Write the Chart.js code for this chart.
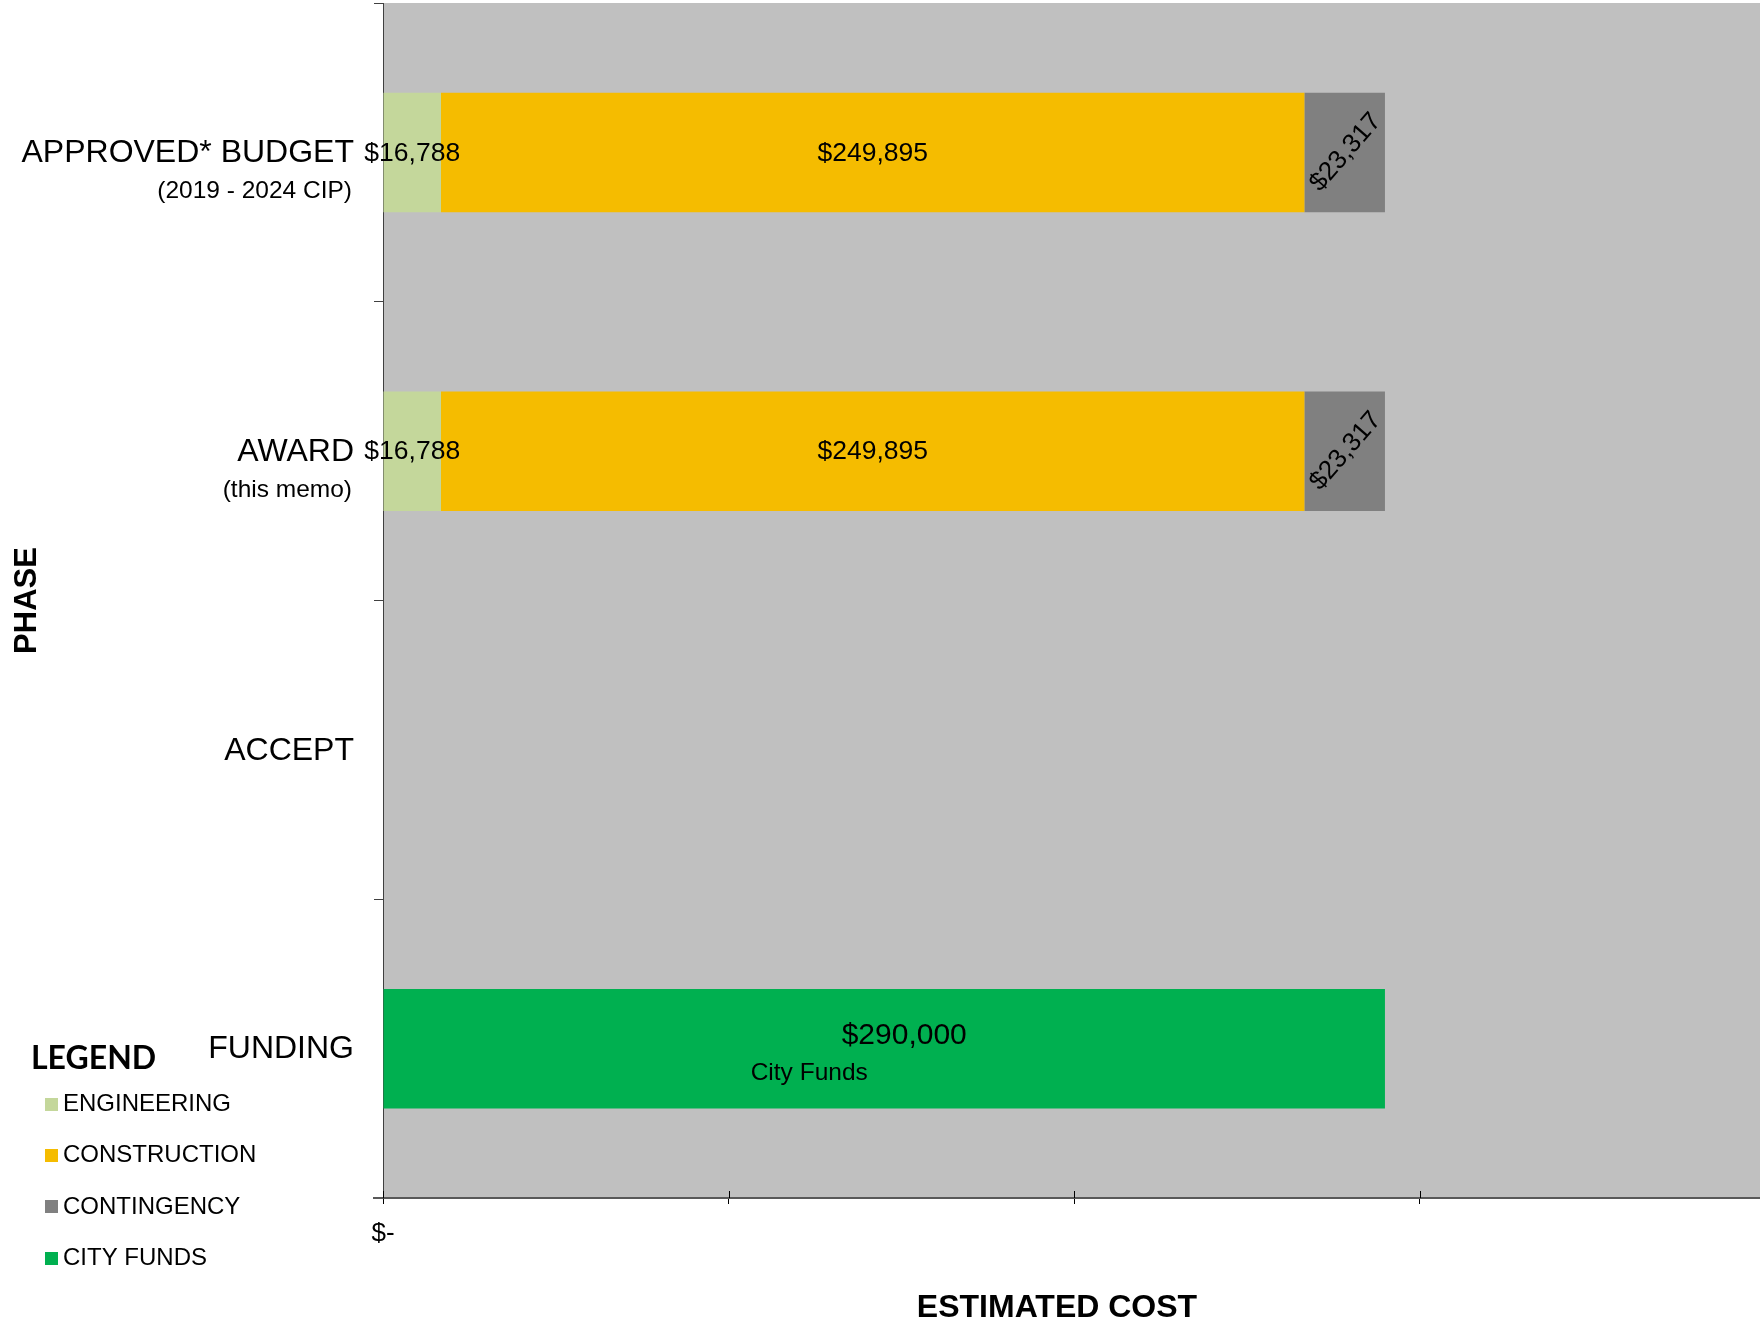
<!DOCTYPE html>
<html><head><meta charset="utf-8">
<script src="https://cdn.jsdelivr.net/npm/chart.js@4.4.1/dist/chart.umd.min.js"></script>
<style>
html,body{margin:0;padding:0;background:#fff;overflow:hidden;width:1760px;height:1325px;}
#wrap{position:absolute;left:0;top:0;width:1766px;height:1325px;}
canvas{display:block;}
</style></head><body>
<div id="wrap"><canvas id="c" width="1766" height="1325" style="width:1766px;height:1325px"></canvas></div>
<script>
// ---- data ----
const categories = ['APPROVED* BUDGET', 'AWARD', 'ACCEPT', 'FUNDING'];
const categoryNotes = ['(2019 - 2024 CIP)', '(this memo)', '', ''];
const engineering = [16788, 16788, null, null];
const construction = [249895, 249895, null, null];
const contingency = [23317, 23317, null, null];
const cityFunds = [null, null, null, 290000];
const seriesNames = ['ENGINEERING', 'CONSTRUCTION', 'CONTINGENCY', 'CITY FUNDS'];
const fundingNote = 'City Funds';
const xTickValues = [0, 100000, 200000, 300000, 400000];
const xTickLabels = ['$-', '', '', '', ''];
const xTitle = 'ESTIMATED COST';
const yTitle = 'PHASE';
const legendTitle = 'LEGEND';

const FONT = "'Liberation Sans', Arial, sans-serif";
const money = v => '$' + v.toLocaleString('en-US');

const plotBg = {
  id: 'plotBg',
  beforeDraw(chart) {
    const {ctx, chartArea: a} = chart;
    ctx.save();
    ctx.fillStyle = '#C0C0C0';
    ctx.fillRect(a.left, a.top, a.right - a.left, a.bottom - a.top);
    ctx.restore();
  }
};

const barLabels = {
  id: 'barLabels',
  afterDatasetsDraw(chart) {
    const ctx = chart.ctx;
    chart.data.datasets.forEach((ds, di) => {
      const meta = chart.getDatasetMeta(di);
      meta.data.forEach((bar, i) => {
        const v = ds.data[i];
        if (!v) return;
        const {x, y, base} = bar.getProps(['x', 'y', 'base'], true);
        const cx = (x + base) / 2;
        ctx.save();
        ctx.fillStyle = '#000';
        ctx.textAlign = 'center';
        ctx.textBaseline = 'middle';
        if (ds.labelMode === 'rotated') {
          ctx.translate(cx + 1, y);
          ctx.rotate(-49 * Math.PI / 180);
          ctx.font = '26px ' + FONT;
          ctx.fillText(money(v), 0, 0);
        } else if (ds.labelMode === 'funding') {
          ctx.font = '30px ' + FONT;
          ctx.fillText(money(v), cx + 20, y - 13);
          ctx.font = '24.5px ' + FONT;
          ctx.fillText(fundingNote, cx - 75, y + 25);
        } else {
          ctx.font = '26.5px ' + FONT;
          ctx.fillText(money(v), cx, y + 1);
        }
        ctx.restore();
      });
    });
  }
};

const extras = {
  id: 'extras',
  afterDraw(chart) {
    const {ctx, scales} = chart;
    const ys = scales.y, xs = scales.x;
    ctx.save();
    // category labels
    ctx.fillStyle = '#000';
    ctx.textAlign = 'right';
    ctx.textBaseline = 'middle';
    categories.forEach((c, i) => {
      const py = ys.getPixelForValue(i);
      ctx.font = '32px ' + FONT;
      ctx.fillText(c, 354, py + 1);
      if (categoryNotes[i]) {
        ctx.font = '24.5px ' + FONT;
        ctx.fillText(categoryNotes[i], 352, py + 39);
      }
    });
    // x cross ticks (inner part)
    ctx.strokeStyle = '#000';
    ctx.lineWidth = 1;
    xTickValues.forEach(v => {
      const px = Math.round(xs.getPixelForValue(v)) + 0.5;
      ctx.beginPath();
      ctx.moveTo(px, xs.top - 7);
      ctx.lineTo(px, xs.top);
      ctx.stroke();
    });
    // x axis extends slightly left of y axis
    ctx.strokeStyle = '#595959';
    ctx.lineWidth = 2;
    ctx.beginPath();
    ctx.moveTo(373, Math.round(xs.top));
    ctx.lineTo(xs.left, Math.round(xs.top));
    ctx.stroke();
    // x title
    ctx.fillStyle = '#000';
    ctx.textAlign = 'center';
    ctx.font = 'bold 32px ' + FONT;
    ctx.fillText(xTitle, 1057, 1308);
    // legend
    ctx.textAlign = 'left';
    ctx.font = "bold 32px Lato, 'Open Sans', sans-serif";
    ctx.fillText(legendTitle, 31, 1059);
    ctx.font = '24px ' + FONT;
    chart.data.datasets.forEach((ds, i) => {
      const cy = 1104.5 + i * 51.2;
      ctx.fillStyle = ds.backgroundColor;
      ctx.fillRect(45, Math.round(cy - 6.5), 13, 13);
      ctx.fillStyle = '#000';
      ctx.fillText(seriesNames[i], 63, cy);
    });
    ctx.restore();
  }
};

new Chart(document.getElementById('c'), {
  type: 'bar',
  data: {
    labels: categories,
    datasets: [
      {label: seriesNames[0], data: engineering, backgroundColor: '#C4D79B', labelMode: 'plain'},
      {label: seriesNames[1], data: construction, backgroundColor: '#F5BC00', labelMode: 'plain'},
      {label: seriesNames[2], data: contingency, backgroundColor: '#808080', labelMode: 'rotated'},
      {label: seriesNames[3], data: cityFunds, backgroundColor: '#00B050', labelMode: 'funding'}
    ]
  },
  options: {
    indexAxis: 'y',
    responsive: false,
    animation: false,
    devicePixelRatio: 1,
    layout: {padding: {left: 0, right: 1, top: 3, bottom: 0}},
    datasets: {bar: {barPercentage: 0.4, categoryPercentage: 1, borderWidth: 0}},
    plugins: {legend: {display: false}, tooltip: {enabled: false}},
    scales: {
      x: {
        type: 'linear', stacked: true, min: 0, max: 400000,
        afterFit(s) { s.height = 127; s.paddingLeft = 0; s.paddingRight = 0; },
        afterBuildTicks(s) { s.ticks = xTickValues.map(v => ({value: v})); },
        ticks: {
          autoSkip: false, maxRotation: 0, padding: 14, color: '#000',
          font: {family: FONT, size: 26},
          callback: v => { const k = xTickValues.indexOf(v); return k >= 0 ? xTickLabels[k] : ''; }
        },
        grid: {display: true, drawOnChartArea: false, drawTicks: true, tickLength: 6, color: '#000'},
        border: {display: true, color: '#595959', width: 2}
      },
      y: {
        type: 'category', stacked: true, offset: true,
        afterFit(s) { s.width = 383; s.paddingTop = 0; s.paddingBottom = 0; },
        ticks: {display: false},
        grid: {display: true, offset: true, drawOnChartArea: false, drawTicks: true, tickLength: 9, color: '#404040'},
        border: {display: true, color: '#404040', width: 1},
        title: {display: true, text: yTitle, color: '#000', font: {family: FONT, size: 31, weight: 'bold'}, padding: {top: 9, bottom: 0}}
      }
    }
  },
  plugins: [plotBg, barLabels, extras]
});
</script>
</body></html>
